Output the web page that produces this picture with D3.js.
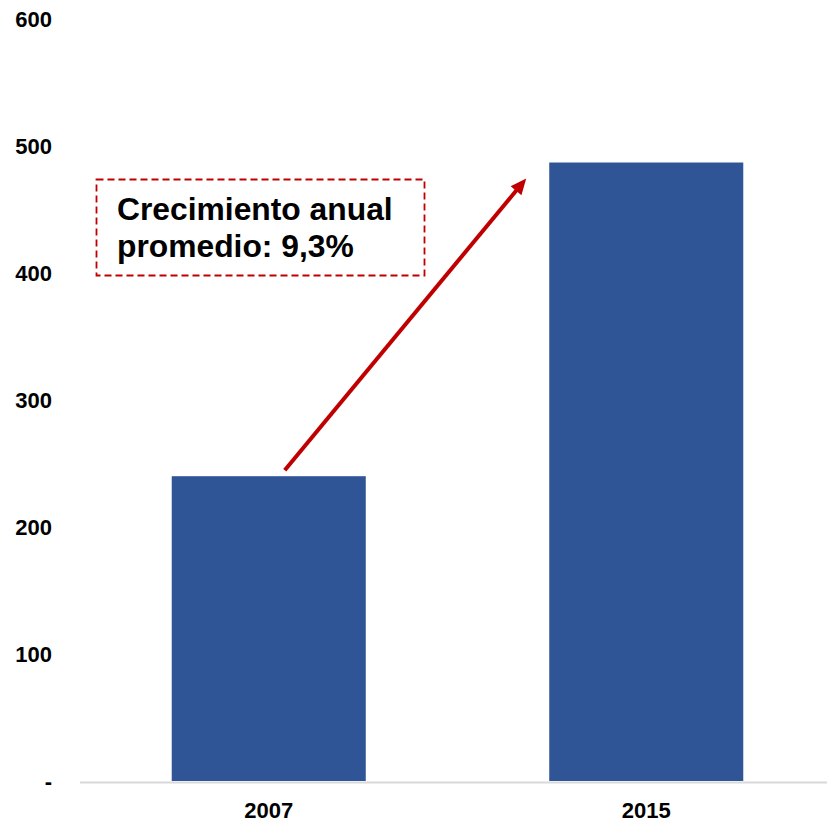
<!DOCTYPE html>
<html>
<head>
<meta charset="utf-8">
<script src="https://cdn.jsdelivr.net/npm/d3@7"></script>
<style>
  html, body { margin: 0; padding: 0; background: #ffffff; }
  svg { display: block; }
  text { font-family: "Liberation Sans", Arial, sans-serif; font-weight: bold; }
</style>
</head>
<body>
<svg id="chart" width="827" height="822"></svg>
<script>
// ---- data ----
const categories = ["2007", "2015"];
const values = [240, 487];
const yTicks = [0, 100, 200, 300, 400, 500, 600];
const annotationLines = ["Crecimiento anual", "promedio: 9,3%"];

// ---- layout ----
const svg = d3.select("#chart");
const W = 827, H = 822;
const mLeft = 80, mRight = 835, mTop = 19, mBottom = 781;

const x = d3.scaleBand().domain(categories).range([mLeft, mRight]).paddingInner(0.486).paddingOuter(0.243);
const y = d3.scaleLinear().domain([0, 600]).range([mBottom, mTop]);

// bars
svg.append("g").selectAll("rect")
  .data(categories.map((c, i) => ({ c, v: values[i] })))
  .join("rect")
  .attr("x", d => x(d.c))
  .attr("width", x.bandwidth())
  .attr("y", d => y(d.v))
  .attr("height", d => y(0) - y(d.v))
  .attr("fill", "#2f5597");

// x axis baseline
svg.append("line")
  .attr("x1", mLeft).attr("x2", W)
  .attr("y1", mBottom + 1.5).attr("y2", mBottom + 1.5)
  .attr("stroke", "#d9d9d9").attr("stroke-width", 2);

// y axis
const yAxis = d3.axisLeft(y).tickValues(yTicks)
  .tickFormat(d => d === 0 ? "-" : d3.format("d")(d))
  .tickSize(0).tickPadding(0);
const gy = svg.append("g").attr("transform", "translate(52,0)").call(yAxis);
gy.select(".domain").remove();
gy.selectAll("text")
  .attr("font-size", 22).attr("font-family", "Liberation Sans, Arial, sans-serif")
  .attr("font-weight", "bold").attr("fill", "#000").attr("text-anchor", "end")
  .attr("dy", "0.35em");

// x axis labels
const xAxis = d3.axisBottom(x).tickSize(0).tickPadding(0);
const gx = svg.append("g").attr("transform", `translate(0,${mBottom})`).call(xAxis);
gx.select(".domain").remove();
gx.selectAll("text")
  .attr("font-size", 22).attr("font-family", "Liberation Sans, Arial, sans-serif")
  .attr("font-weight", "bold").attr("fill", "#000")
  .attr("y", 0).attr("dy", 37);

// annotation box
svg.append("rect")
  .attr("x", 96.5).attr("y", 179.5).attr("width", 328).attr("height", 96)
  .attr("fill", "none").attr("stroke", "#c00000").attr("stroke-width", 1.8)
  .attr("stroke-dasharray", "7,4");

svg.append("g").selectAll("text")
  .data(annotationLines)
  .join("text")
  .attr("x", 117)
  .attr("y", (d, i) => 220 + i * 37)
  .attr("font-size", 31.8)
  .attr("fill", "#000")
  .text(d => d);

// arrow (anchored to bars)
const ax0 = x("2007") + x.bandwidth() / 2 + 16, ay0 = y(values[0]) - 6;
const ax1 = x("2015") - 23, ay1 = y(values[1]) + 16;
const ang = Math.atan2(ay1 - ay0, ax1 - ax0);
const headLen = 16, headW = 7;
const bx = ax1 - headLen * Math.cos(ang), by = ay1 - headLen * Math.sin(ang);
svg.append("line")
  .attr("x1", ax0).attr("y1", ay0).attr("x2", bx + 2 * Math.cos(ang)).attr("y2", by + 2 * Math.sin(ang))
  .attr("stroke", "#c00000").attr("stroke-width", 4);
svg.append("path")
  .attr("d", d3.line()([
    [ax1, ay1],
    [bx + headW * Math.sin(ang), by - headW * Math.cos(ang)],
    [bx - headW * Math.sin(ang), by + headW * Math.cos(ang)]
  ]) + "Z")
  .attr("fill", "#c00000");
</script>
</body>
</html>
